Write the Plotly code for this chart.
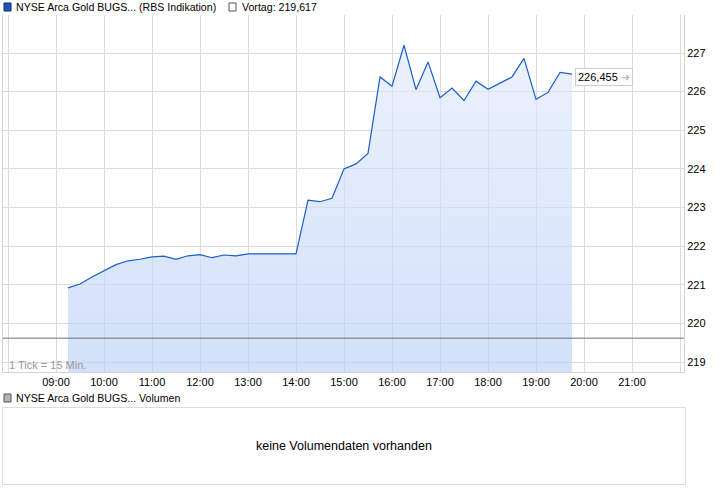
import plotly.graph_objects as go

# ---- data ----
times = [
    "09:15", "09:30", "09:45",
    "10:00", "10:15", "10:30", "10:45",
    "11:00", "11:15", "11:30", "11:45",
    "12:00", "12:15", "12:30", "12:45",
    "13:00", "13:15", "13:30", "13:45",
    "14:00", "14:15", "14:30", "14:45",
    "15:00", "15:15", "15:30", "15:45",
    "16:00", "16:15", "16:30", "16:45",
    "17:00", "17:15", "17:30", "17:45",
    "18:00", "18:15", "18:30", "18:45",
    "19:00", "19:15", "19:30", "19:45",
]
prices = [
    220.92, 221.02, 221.20,
    221.37, 221.52, 221.62, 221.66,
    221.72, 221.74, 221.66, 221.75,
    221.78, 221.70, 221.77, 221.75,
    221.80, 221.80, 221.80, 221.80,
    221.80, 223.19, 223.15, 223.24,
    224.00, 224.13, 224.40, 226.38,
    226.14, 227.20, 226.05, 226.77,
    225.84, 226.09, 225.77, 226.27,
    226.06, 226.22, 226.38, 226.86,
    225.80, 225.98, 226.50, 226.455,
]
prev_close = 219.617
last_label = "226,455"
prev_label = "Vortag: 219,617"
y_ticks = [219, 220, 221, 222, 223, 224, 225, 226, 227]
x_tick_hours = ["08:00", "09:00", "10:00", "11:00", "12:00", "13:00", "14:00", "15:00",
                "16:00", "17:00", "18:00", "19:00", "20:00", "21:00", "22:00"]
x_tick_text = [""] + x_tick_hours[1:-1] + [""]

DAY = "2024-01-02 "
xs = [DAY + t for t in times]

W, H = 726, 496
L, R, T, B = 3, 684, 15, 372  # plot area in pixels


def px(x):
    return (x - L) / (R - L)


def py(y):
    return (B - y) / (B - T)


fig = go.Figure()

fig.add_trace(go.Scatter(
    x=xs, y=prices, mode="lines",
    line=dict(color="#1c5ec8", width=1.2),
    fill="tozeroy",
    fillgradient=dict(
        type="vertical",
        colorscale=[[0, "rgba(186,208,246,0.66)"], [1, "rgba(226,236,252,0.66)"]],
        start=218.74, stop=227.3,
    ),
    hoverinfo="skip", showlegend=False,
))

# previous close line
fig.add_trace(go.Scatter(
    x=[DAY + "07:53:45", DAY + "22:05:00"], y=[prev_close, prev_close],
    mode="lines", line=dict(color="#6e6e6e", width=1),
    hoverinfo="skip", showlegend=False,
))

fig.update_layout(
    width=W, height=H,
    margin=dict(l=L, r=W - R, t=T, b=H - B),
    paper_bgcolor="white", plot_bgcolor="white",
    font=dict(family="Liberation Sans, Arial, sans-serif", size=11, color="#000"),
    xaxis=dict(
        type="date",
        range=[DAY + "07:53:45", DAY + "22:05:00"],
        tickvals=[DAY + t for t in x_tick_hours],
        ticktext=x_tick_text,
        showgrid=True, gridcolor="#dcdcdc", gridwidth=1,
        showline=True, linecolor="#d4d4d4", linewidth=1,
        ticks="", zeroline=False,
        tickfont=dict(size=11, color="#000"),
        fixedrange=True,
    ),
    yaxis=dict(
        side="right",
        range=[218.741, 227.984],
        tickvals=y_ticks,
        ticktext=[str(v) for v in y_ticks],
        showgrid=True, gridcolor="#dcdcdc", gridwidth=1,
        showline=True, mirror=True, linecolor="#d4d4d4", linewidth=1,
        ticks="", zeroline=False,
        tickfont=dict(size=11, color="#000"),
        fixedrange=True,
    ),
)

shapes = []
annotations = []

# top legend
shapes.append(dict(type="rect", xref="paper", yref="paper",
                   x0=px(4), x1=px(11), y0=py(11), y1=py(3),
                   fillcolor="#1f55b8", line=dict(color="#0d2c6b", width=1)))
annotations.append(dict(xref="paper", yref="paper", x=px(14), y=py(7),
                        xanchor="left", yanchor="middle", showarrow=False,
                        text="NYSE Arca Gold BUGS... (RBS Indikation)",
                        font=dict(size=10.6, color="#000")))
shapes.append(dict(type="rect", xref="paper", yref="paper",
                   x0=px(229), x1=px(236), y0=py(11), y1=py(3),
                   fillcolor="white", line=dict(color="#555", width=1)))
annotations.append(dict(xref="paper", yref="paper", x=px(240), y=py(7),
                        xanchor="left", yanchor="middle", showarrow=False,
                        text=prev_label, font=dict(size=10.6, color="#000")))

# tick note
annotations.append(dict(xref="paper", yref="paper", x=px(7), y=py(365),
                        xanchor="left", yanchor="middle", showarrow=False,
                        text="1 Tick = 15 Min.", font=dict(size=11, color="#999")))

# last price label
annotations.append(dict(xref="x", yref="y", x=xs[-1], y=prices[-1],
                        xanchor="left", yanchor="middle", showarrow=False,
                        xshift=3, yshift=-3,
                        text=last_label + " <span style='color:#bbbbbb'>➜</span>",
                        font=dict(size=11, color="#000"),
                        bgcolor="white", bordercolor="#cccccc", borderwidth=1,
                        borderpad=2))

# volume panel
shapes.append(dict(type="rect", xref="paper", yref="paper",
                   x0=px(4), x1=px(11), y0=py(402), y1=py(394),
                   fillcolor="#b4b4b4", line=dict(color="#555", width=1)))
annotations.append(dict(xref="paper", yref="paper", x=px(14), y=py(398),
                        xanchor="left", yanchor="middle", showarrow=False,
                        text="NYSE Arca Gold BUGS... Volumen",
                        font=dict(size=10.6, color="#000")))
shapes.append(dict(type="rect", xref="paper", yref="paper",
                   x0=px(2.5), x1=px(685.5), y0=py(484.5), y1=py(407.5),
                   fillcolor="rgba(0,0,0,0)", line=dict(color="#dcdcdc", width=1)))
annotations.append(dict(xref="paper", yref="paper", x=px(344), y=py(446),
                        xanchor="center", yanchor="middle", showarrow=False,
                        text="keine Volumendaten vorhanden",
                        font=dict(size=12.5, color="#000")))

fig.update_layout(shapes=shapes, annotations=annotations)

fig.write_html(
    "out.html",
    config={"displayModeBar": False},
    post_script="document.body.style.margin='0';document.body.style.padding='0';document.body.style.overflow='hidden';",
)
